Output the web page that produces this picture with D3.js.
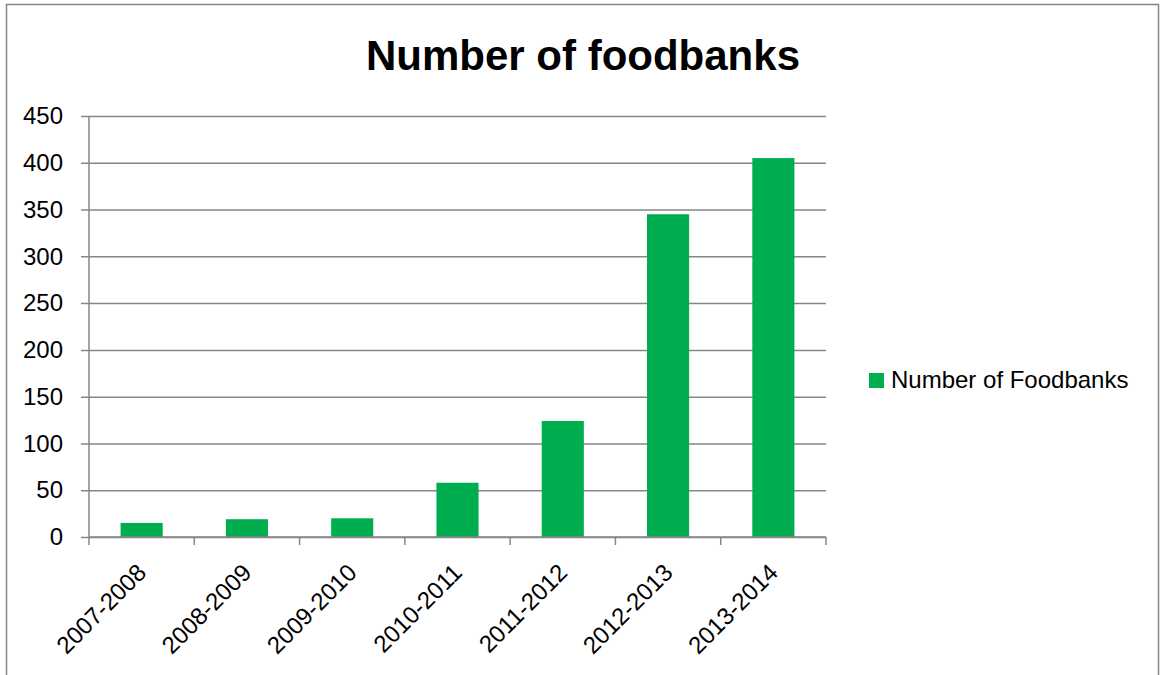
<!DOCTYPE html>
<html>
<head>
<meta charset="utf-8">
<script src="https://cdn.jsdelivr.net/npm/d3@7"></script>
<style>
  body { margin: 0; background: #fff; }
  text { font-family: "Liberation Sans", Arial, sans-serif; fill: #000; }
</style>
</head>
<body>
<div id="chart"></div>
<script>
// data
const seasons = ["2007-2008", "2008-2009", "2009-2010", "2010-2011", "2011-2012", "2012-2013", "2013-2014"];
const foodbanks = [15, 19, 20, 58, 124, 345, 405];
const yTicks = [0, 50, 100, 150, 200, 250, 300, 350, 400, 450];
const seriesName = "Number of Foodbanks";
const chartTitle = "Number of foodbanks";

const W = 1160, H = 675;
const margin = {top: 116, right: 334, bottom: 138, left: 89};
const width = W - margin.left - margin.right;
const height = H - margin.top - margin.bottom;
const green = "#00ae4f";
const grey = "#868686";
const labelSize = 24;

const svg = d3.select("#chart").append("svg")
    .attr("width", W)
    .attr("height", H);

// outer frame (bottom edge runs off the picture)
svg.append("path")
    .attr("d", `M6.5,${H} V4.5 H1158.5 V${H}`)
    .attr("fill", "none")
    .attr("stroke", grey)
    .attr("stroke-width", 1.5);

svg.append("text")
    .attr("x", 583)
    .attr("y", 70)
    .attr("text-anchor", "middle")
    .attr("font-size", 42)
    .attr("font-weight", "bold")
    .text(chartTitle);

const g = svg.append("g")
    .attr("transform", `translate(${margin.left},${margin.top})`);

const x = d3.scaleBand()
    .domain(seasons)
    .range([0, width])
    .paddingInner(0.6)
    .paddingOuter(0.3);

const y = d3.scaleLinear()
    .domain([0, 450])
    .range([height, 0]);

// gridlines + y ticks
g.append("g")
    .call(d3.axisLeft(y).tickValues(yTicks).tickSize(-width).tickPadding(26))
    .call(g => g.select(".domain").remove())
    .call(g => g.selectAll(".tick line")
        .attr("x1", -8)
        .attr("stroke", grey)
        .attr("stroke-width", 1.5))
    .call(g => g.selectAll(".tick text")
        .attr("font-size", labelSize)
        .attr("font-family", "Liberation Sans, Arial, sans-serif")
        .attr("fill", "#000"));

// y axis line
g.append("line")
    .attr("x1", 0).attr("x2", 0)
    .attr("y1", 0).attr("y2", height)
    .attr("stroke", grey)
    .attr("stroke-width", 1.5);

// bars
g.append("g")
    .selectAll("rect")
    .data(foodbanks)
    .join("rect")
    .attr("x", (d, i) => x(seasons[i]))
    .attr("y", d => y(d))
    .attr("width", x.bandwidth())
    .attr("height", d => height - y(d))
    .attr("fill", green);

// x axis: line at 0, ticks between categories
const xAxis = g.append("g").attr("transform", `translate(0,${height})`);
xAxis.append("line")
    .attr("x1", 0).attr("x2", width)
    .attr("stroke", grey)
    .attr("stroke-width", 1.5);
const step = x.step();
xAxis.selectAll(".xt")
    .data(d3.range(seasons.length + 1))
    .join("line")
    .attr("class", "xt")
    .attr("x1", i => x(seasons[0]) - step * 0.3 + i * step)
    .attr("x2", i => x(seasons[0]) - step * 0.3 + i * step)
    .attr("y1", 0).attr("y2", 8)
    .attr("stroke", grey)
    .attr("stroke-width", 1.5);

xAxis.selectAll(".xl")
    .data(seasons)
    .join("text")
    .attr("class", "xl")
    .attr("font-size", labelSize)
    .attr("text-anchor", "end")
    .attr("transform", d => `translate(${x(d) + x.bandwidth() / 2 + 6},${37}) rotate(-45)`)
    .text(d => d);

// legend
const legend = svg.append("g").attr("transform", "translate(869,373)");
legend.append("rect")
    .attr("width", 15).attr("height", 15)
    .attr("fill", green);
legend.append("text")
    .attr("x", 22)
    .attr("y", 15)
    .attr("font-size", labelSize)
    .text(seriesName);
</script>
</body>
</html>
